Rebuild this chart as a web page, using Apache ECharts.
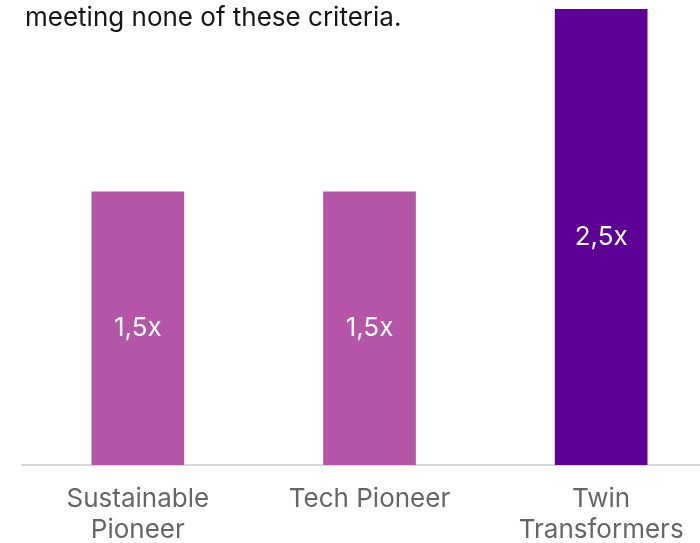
<!DOCTYPE html>
<html>
<head>
<meta charset="utf-8">
<script src="https://cdn.jsdelivr.net/npm/echarts@6/dist/echarts.min.js"></script>
<style>
  html, body { margin: 0; padding: 0; background: #fff; overflow: hidden; }
  /* the plot runs a little past the right edge of the window */
  #chart { width: 717px; height: 543px; }
</style>
</head>
<body>
<div id="chart"></div>
<script>
// Profile groups and their performance multiple
const categories = ['Sustainable\nPioneer', 'Tech Pioneer', 'Twin\nTransformers'];
const multiples = [1.5, 1.5, 2.5];
const barColors = ['#B455A8', '#B455A8', '#5C0096'];
const subtitle = 'meeting none of these criteria.';

const FONT = 'Inter, "Noto Sans", sans-serif';
const chart = echarts.init(document.getElementById('chart'));

chart.setOption({
  animation: false,
  textStyle: { fontFamily: FONT },
  title: {
    text: subtitle,
    left: 20,
    top: 0,
    textStyle: { fontSize: 26, fontWeight: 'normal', color: '#161616', fontFamily: FONT }
  },
  grid: { left: 22, right: 0, top: 9, bottom: 78, containLabel: false, outerBoundsMode: 'none' },
  xAxis: {
    type: 'category',
    data: categories,
    axisLine: { lineStyle: { color: '#d9d9d9', width: 2 } },
    axisTick: { show: false },
    axisLabel: { color: '#666', fontSize: 26, lineHeight: 31, margin: 19, fontFamily: FONT }
  },
  yAxis: {
    type: 'value',
    min: 0,
    max: 2.5,
    show: false
  },
  series: [{
    type: 'bar',
    barWidth: '40%',
    data: multiples.map((v, i) => ({ value: v, itemStyle: { color: barColors[i] } })),
    label: {
      show: true,
      position: 'inside',
      color: '#fff',
      fontSize: 26,
      fontFamily: FONT,
      formatter: p => String(p.value).replace('.', ',') + 'x'
    }
  }]
});
</script>
</body>
</html>
